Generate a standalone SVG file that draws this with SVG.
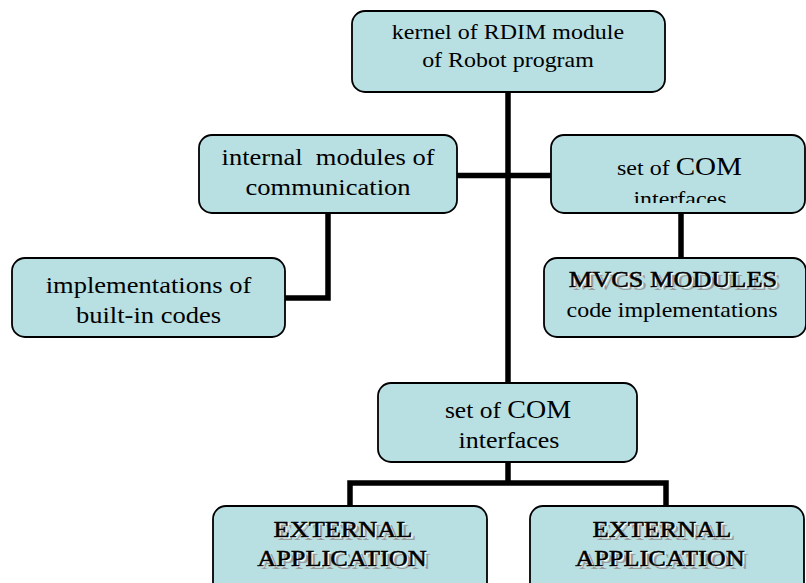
<svg xmlns="http://www.w3.org/2000/svg" xmlns:xlink="http://www.w3.org/1999/xlink" width="806" height="583" viewBox="0 0 806 583">
<style>
.box{fill:#B8DFE2;stroke:#000;stroke-width:1.8}
.t{font-family:"Liberation Serif","Times New Roman",serif;font-size:21.4px;fill:#000;text-anchor:middle}
.conn{fill:none;stroke:#000;stroke-width:5.5;stroke-linecap:butt;stroke-linejoin:miter}
.sh{fill:#9a9a9a}
.wh{fill:#fff}
.bk{fill:#000;stroke:#000;stroke-width:0.5}
</style>
<defs>
<clipPath id="clipR"><rect x="551" y="135" width="254" height="68"/></clipPath>
<text id="mvcs" class="t" style="fill:inherit;font-size:23.5px" transform="matrix(1.12 0 0 1 673 287)">MVCS MODULES</text>
<text id="ext1" class="t" style="fill:inherit;font-size:23.5px" transform="matrix(1.12 0 0 1 343 537)">EXTERNAL</text>
<text id="app1" class="t" style="fill:inherit;font-size:23.5px" transform="matrix(1.12 0 0 1 342 566)">APPLICATION</text>
<text id="ext2" class="t" style="fill:inherit;font-size:23.5px" transform="matrix(1.12 0 0 1 662 537)">EXTERNAL</text>
<text id="app2" class="t" style="fill:inherit;font-size:23.5px" transform="matrix(1.12 0 0 1 660 566)">APPLICATION</text>
</defs>
<g id="connectors">
<path class="conn" d="M508 91 V383"/>
<path class="conn" d="M457 175.5 H551"/>
<path class="conn" d="M328 213 V298 H285"/>
<path class="conn" d="M681 213 V258"/>
<path class="conn" d="M508 462 V483"/>
<path class="conn" d="M350 506 V483 H666 V506"/>
</g>
<g id="kernel">
<rect class="box" x="352" y="11" width="313" height="81" rx="13"/>
<text class="t" transform="matrix(1.12 0 0 1 508 39)">kernel of RDIM module</text>
<text class="t" transform="matrix(1.12 0 0 1 508 67)">of Robot program</text>
</g>
<g id="internal">
<rect class="box" x="199" y="135" width="258" height="78" rx="13"/>
<text class="t" style="font-size:23.7px" xml:space="preserve" transform="matrix(1.12 0 0 1 328 165)">internal  modules of</text>
<text class="t" style="font-size:23.7px" transform="matrix(1.12 0 0 1 328 195)">communication</text>
</g>
<g id="com-right">
<rect class="box" x="551" y="135" width="254" height="78" rx="13"/>
<text class="t" transform="matrix(1.12 0 0 1 679.5 175)">set of <tspan style="font-size:26px">COM</tspan></text>
<g clip-path="url(#clipR)">
<text class="t" transform="matrix(1.12 0 0 1 680 206)">interfaces</text>
</g>
</g>
<g id="implementations">
<rect class="box" x="12" y="258" width="273" height="79" rx="13"/>
<text class="t" style="font-size:23.7px" transform="matrix(1.12 0 0 1 148.5 293)">implementations of</text>
<text class="t" style="font-size:23.7px" transform="matrix(1.12 0 0 1 148.5 323)">built-in codes</text>
</g>
<g id="mvcs-node">
<rect class="box" x="544" y="258" width="262" height="79" rx="13"/>
<use xlink:href="#mvcs" class="sh" transform="translate(4,3)"/>
<use xlink:href="#mvcs" class="wh" transform="translate(1.5,1.2)"/>
<use xlink:href="#mvcs" class="bk"/>
<text class="t" transform="matrix(1.12 0 0 1 672 317)">code implementations</text>
</g>
<g id="com-bottom">
<rect class="box" x="378" y="383" width="259" height="79" rx="13"/>
<text class="t" style="font-size:22.8px" transform="matrix(1.12 0 0 1 508 418)">set of <tspan style="font-size:25px">COM</tspan></text>
<text class="t" style="font-size:23.2px" transform="matrix(1.12 0 0 1 509 448)">interfaces</text>
</g>
<g id="ext-left">
<rect class="box" x="213" y="506" width="274" height="90" rx="13"/>
<use xlink:href="#ext1" class="sh" transform="translate(4,3)"/>
<use xlink:href="#ext1" class="wh" transform="translate(1.5,1.2)"/>
<use xlink:href="#ext1" class="bk"/>
<use xlink:href="#app1" class="sh" transform="translate(4,3)"/>
<use xlink:href="#app1" class="wh" transform="translate(1.5,1.2)"/>
<use xlink:href="#app1" class="bk"/>
</g>
<g id="ext-right">
<rect class="box" x="530" y="506" width="274" height="90" rx="13"/>
<use xlink:href="#ext2" class="sh" transform="translate(4,3)"/>
<use xlink:href="#ext2" class="wh" transform="translate(1.5,1.2)"/>
<use xlink:href="#ext2" class="bk"/>
<use xlink:href="#app2" class="sh" transform="translate(4,3)"/>
<use xlink:href="#app2" class="wh" transform="translate(1.5,1.2)"/>
<use xlink:href="#app2" class="bk"/>
</g>
</svg>
